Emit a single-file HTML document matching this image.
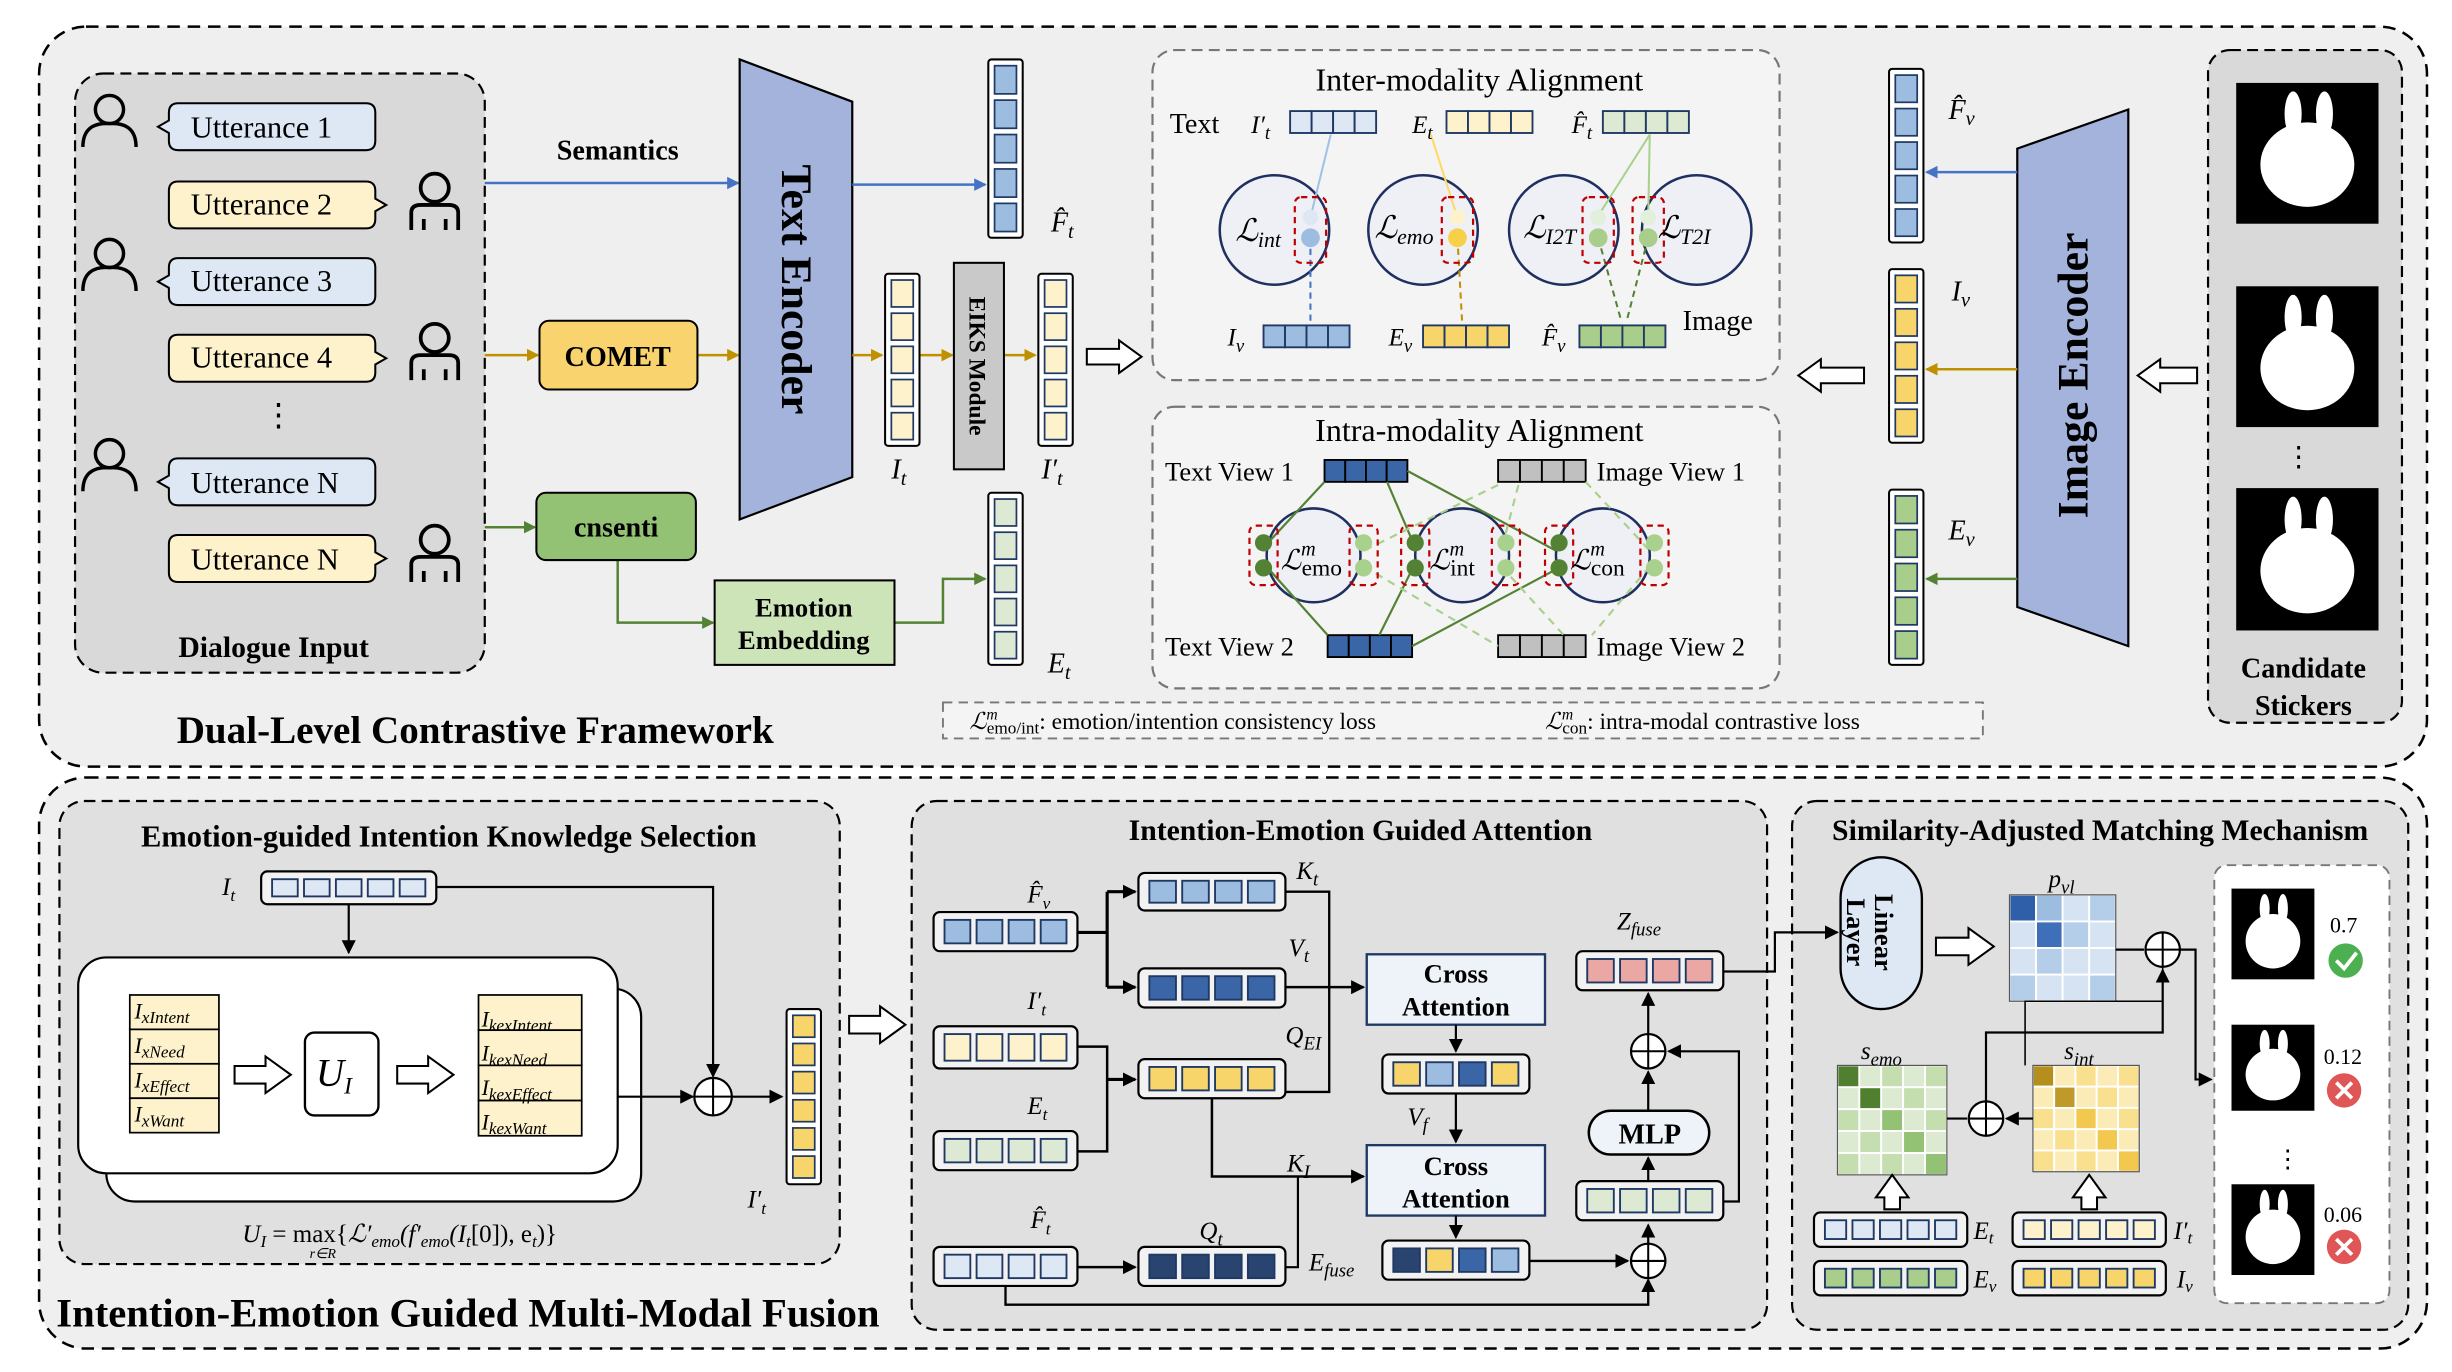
<!DOCTYPE html>
<html><head><meta charset="utf-8"><style>
html,body{margin:0;padding:0;background:#fff}
svg{display:block}
text{font-family:"Liberation Serif",serif;fill:#000}
.b{font-weight:bold}
.i{font-style:italic}
</style></head><body>
<svg id="s" width="2452" height="1372" viewBox="0 0 1568 877" preserveAspectRatio="none" xmlns="http://www.w3.org/2000/svg">
<defs>
<marker id="ab" markerWidth="8" markerHeight="8" refX="7" refY="4" orient="auto" markerUnits="userSpaceOnUse"><path d="M0,0 L8,4 L0,8 z" fill="#4472c4"/></marker>
<marker id="ay" markerWidth="8" markerHeight="8" refX="7" refY="4" orient="auto" markerUnits="userSpaceOnUse"><path d="M0,0 L8,4 L0,8 z" fill="#bf9000"/></marker>
<marker id="ag" markerWidth="8" markerHeight="8" refX="7" refY="4" orient="auto" markerUnits="userSpaceOnUse"><path d="M0,0 L8,4 L0,8 z" fill="#548235"/></marker>
<marker id="ak" markerWidth="9" markerHeight="9" refX="8" refY="4.5" orient="auto" markerUnits="userSpaceOnUse"><path d="M0,0 L9,4.5 L0,9 z" fill="#000"/></marker>
</defs>
<rect x="25" y="17" width="1527" height="473" rx="30" fill="#efefef" stroke="#000" stroke-width="1.6" stroke-dasharray="8,5"/>
<rect x="25" y="497" width="1527" height="365" rx="30" fill="#efefef" stroke="#000" stroke-width="1.6" stroke-dasharray="8,5"/>
<rect x="48" y="47" width="262" height="383" rx="18" fill="#d9d9d9" stroke="#000" stroke-width="1.4" stroke-dasharray="7,4"/>
<rect x="1412" y="32" width="124" height="430" rx="14" fill="#d9d9d9" stroke="#000" stroke-width="1.4" stroke-dasharray="7,4"/>
<rect x="737" y="32" width="401" height="211" rx="14" fill="#f4f4f4" stroke="#777" stroke-width="1.4" stroke-dasharray="7,4"/>
<rect x="737" y="260" width="401" height="180" rx="14" fill="#f4f4f4" stroke="#777" stroke-width="1.4" stroke-dasharray="7,4"/>
<rect x="603" y="449" width="665" height="23" fill="#f4f4f4" stroke="#777" stroke-width="1.2" stroke-dasharray="6,4"/>
<rect x="38" y="512" width="499" height="296" rx="16" fill="#e0e0e0" stroke="#000" stroke-width="1.4" stroke-dasharray="7,4"/>
<rect x="583" y="512" width="547" height="338" rx="16" fill="#e0e0e0" stroke="#000" stroke-width="1.4" stroke-dasharray="7,4"/>
<rect x="1146" y="512" width="394" height="338" rx="16" fill="#e0e0e0" stroke="#000" stroke-width="1.4" stroke-dasharray="7,4"/>
<rect x="1416" y="553" width="112" height="280" rx="8" fill="#fff" stroke="#777" stroke-width="1.2" stroke-dasharray="6,4"/>

<g id="shapes"></g>

<g font-size="19.5">
<text x="122" y="88">Utterance 1</text>
<text x="122" y="137">Utterance 2</text>
<text x="122" y="186">Utterance 3</text>
<text x="122" y="235">Utterance 4</text>
<text x="122" y="315">Utterance N</text>
<text x="122" y="364">Utterance N</text>
</g>
<text x="168" y="272" font-size="20">⋮</text>
<text x="175" y="420" font-size="19" class="b" text-anchor="middle">Dialogue Input</text>
<text x="395" y="102" font-size="18" class="b" text-anchor="middle">Semantics</text>
<text x="395" y="234" font-size="18" class="b" text-anchor="middle">COMET</text>
<text x="394" y="343" font-size="18" class="b" text-anchor="middle">cnsenti</text>
<text x="514" y="394" font-size="17" class="b" text-anchor="middle">Emotion</text>
<text x="514" y="415" font-size="17" class="b" text-anchor="middle">Embedding</text>
<text transform="translate(500,185) rotate(90)" font-size="28" class="b" text-anchor="middle">Text Encoder</text>
<text transform="translate(620,234) rotate(90)" font-size="15" class="b" text-anchor="middle">EIKS Module</text>
<text transform="translate(1335,240) rotate(-90)" font-size="28" class="b" text-anchor="middle">Image Encoder</text>
<text x="1473" y="433" font-size="18" class="b" text-anchor="middle">Candidate</text>
<text x="1473" y="457" font-size="18" class="b" text-anchor="middle">Stickers</text>
<text x="1470" y="298" font-size="18" text-anchor="middle">⋮</text>
<text x="113" y="475" font-size="25" class="b">Dual-Level Contrastive Framework</text>
<text x="36" y="848" font-size="26" class="b">Intention-Emotion Guided Multi-Modal Fusion</text>

<g font-size="18" class="i">
<text x="672" y="148">F̂<tspan font-size="13" dy="4">t</tspan></text>
<text x="570" y="306">I<tspan font-size="13" dy="4">t</tspan></text>
<text x="666" y="306">I′<tspan font-size="13" dy="4">t</tspan></text>
<text x="670" y="430">E<tspan font-size="13" dy="4">t</tspan></text>
<text x="1246" y="76">F̂<tspan font-size="13" dy="4">v</tspan></text>
<text x="1248" y="192">I<tspan font-size="13" dy="4">v</tspan></text>
<text x="1246" y="345">E<tspan font-size="13" dy="4">v</tspan></text>
</g>

<text x="946" y="58" font-size="20.5" text-anchor="middle">Inter-modality Alignment</text>
<text x="748" y="85" font-size="18">Text</text>
<text x="1076" y="211" font-size="18">Image</text>
<g font-size="16" class="i">
<text x="800" y="85">I′<tspan font-size="12" dy="4">t</tspan></text>
<text x="903" y="85">E<tspan font-size="12" dy="4">t</tspan></text>
<text x="1005" y="85">F̂<tspan font-size="12" dy="4">t</tspan></text>
<text x="785" y="221">I<tspan font-size="12" dy="4">v</tspan></text>
<text x="888" y="221">E<tspan font-size="12" dy="4">v</tspan></text>
<text x="986" y="221">F̂<tspan font-size="12" dy="4">v</tspan></text>
</g>
<g font-size="20" class="i">
<text x="790" y="154" fill="#1f3060">ℒ<tspan font-size="14" dy="4">int</tspan></text>
<text x="879" y="152" fill="#1f3060">ℒ<tspan font-size="14" dy="4">emo</tspan></text>
<text x="974" y="152" fill="#1f3060">ℒ<tspan font-size="14" dy="4">I2T</tspan></text>
<text x="1060" y="152" fill="#1f3060">ℒ<tspan font-size="14" dy="4">T2I</tspan></text>
</g>
<text x="946" y="282" font-size="20.5" text-anchor="middle">Intra-modality Alignment</text>
<g font-size="17">
<text x="745" y="307">Text View 1</text>
<text x="1021" y="307">Image View 1</text>
<text x="745" y="419">Text View 2</text>
<text x="1021" y="419">Image View 2</text>
</g>
<g font-size="18" class="i">
<text x="819" y="364" fill="#1f3060">ℒ<tspan font-size="13" dy="-9">m</tspan><tspan font-size="15" dx="-9" dy="13" font-style="normal">emo</tspan></text>
<text x="914" y="364" fill="#1f3060">ℒ<tspan font-size="13" dy="-9">m</tspan><tspan font-size="15" dx="-9" dy="13" font-style="normal">int</tspan></text>
<text x="1004" y="364" fill="#1f3060">ℒ<tspan font-size="13" dy="-9">m</tspan><tspan font-size="15" dx="-9" dy="13" font-style="normal">con</tspan></text>
</g>
<g font-size="15">
<text x="620" y="466" fill="#1f3060" class="i">ℒ<tspan font-size="10" dy="-6">m</tspan><tspan font-size="11" dx="-7" dy="9" font-style="normal">emo/int</tspan><tspan dy="-3" font-style="normal">: emotion/intention consistency loss</tspan></text>
<text x="988" y="466" fill="#1f3060" class="i">ℒ<tspan font-size="10" dy="-6">m</tspan><tspan font-size="11" dx="-7" dy="9" font-style="normal">con</tspan><tspan dy="-3" font-style="normal">: intra-modal contrastive loss</tspan></text>
</g>

<text x="287" y="541" font-size="19.5" class="b" text-anchor="middle">Emotion-guided Intention Knowledge Selection</text>
<text x="142" y="572" font-size="16" class="i">I<tspan font-size="11" dy="4">t</tspan></text>
<g font-size="14" class="i">
<text x="86" y="651">I<tspan font-size="11" dy="3">xIntent</tspan></text>
<text x="86" y="673">I<tspan font-size="11" dy="3">xNeed</tspan></text>
<text x="86" y="695">I<tspan font-size="11" dy="3">xEffect</tspan></text>
<text x="86" y="717">I<tspan font-size="11" dy="3">xWant</tspan></text>
<text x="308" y="656">I<tspan font-size="11" dy="3">kexIntent</tspan></text>
<text x="308" y="678">I<tspan font-size="11" dy="3">kexNeed</tspan></text>
<text x="308" y="700">I<tspan font-size="11" dy="3">kexEffect</tspan></text>
<text x="308" y="722">I<tspan font-size="11" dy="3">kexWant</tspan></text>
</g>
<text x="202" y="694" font-size="25" class="i">U<tspan font-size="15" dy="5">I</tspan></text>
<text x="478" y="772" font-size="16" class="i">I′<tspan font-size="11" dy="4">t</tspan></text>
<text x="155" y="794" font-size="16" class="i">U<tspan font-size="11" dy="3">I</tspan><tspan dy="-3" font-style="normal"> = max{</tspan>ℒ′<tspan font-size="11" dy="3">emo</tspan><tspan dy="-3">(f′</tspan><tspan font-size="11" dy="3">emo</tspan><tspan dy="-3">(I</tspan><tspan font-size="11" dy="3">t</tspan><tspan dy="-3" font-style="normal">[0]), e</tspan><tspan font-size="11" dy="3">t</tspan><tspan dy="-3" font-style="normal">)}</tspan></text>
<text x="198" y="804" font-size="9" class="i">r∈R</text>

<text x="870" y="537" font-size="19" class="b" text-anchor="middle">Intention-Emotion Guided Attention</text>
<g font-size="16" class="i">
<text x="657" y="577">F̂<tspan font-size="11" dy="4">v</tspan></text>
<text x="657" y="645">I′<tspan font-size="11" dy="4">t</tspan></text>
<text x="657" y="712">E<tspan font-size="11" dy="4">t</tspan></text>
<text x="659" y="785">F̂<tspan font-size="11" dy="4">t</tspan></text>
<text x="829" y="562">K<tspan font-size="12" dy="4">t</tspan></text>
<text x="824" y="611">V<tspan font-size="12" dy="4">t</tspan></text>
<text x="822" y="667">Q<tspan font-size="12" dy="4">EI</tspan></text>
<text x="823" y="749">K<tspan font-size="12" dy="4">I</tspan></text>
<text x="767" y="792">Q<tspan font-size="12" dy="4">t</tspan></text>
<text x="837" y="812">E<tspan font-size="12" dy="4">fuse</tspan></text>
<text x="900" y="719">V<tspan font-size="12" dy="4">f</tspan></text>
<text x="1034" y="594">Z<tspan font-size="12" dy="4">fuse</tspan></text>
</g>
<g font-size="17" class="b" text-anchor="middle">
<text x="931" y="628">Cross</text><text x="931" y="649">Attention</text>
<text x="931" y="751">Cross</text><text x="931" y="772">Attention</text>
<text x="1055" y="731" font-size="18">MLP</text>
</g>

<text x="1343" y="537" font-size="19" class="b" text-anchor="middle">Similarity-Adjusted Matching Mechanism</text>
<text transform="translate(1199,596) rotate(90)" font-size="17" class="b" text-anchor="middle">Linear</text>
<text transform="translate(1181,596) rotate(90)" font-size="17" class="b" text-anchor="middle">Layer</text>
<g font-size="16" class="i">
<text x="1310" y="567">p<tspan font-size="12" dy="4">vl</tspan></text>
<text x="1190" y="677">s<tspan font-size="12" dy="4">emo</tspan></text>
<text x="1320" y="677">s<tspan font-size="12" dy="4">int</tspan></text>
<text x="1262" y="792">E<tspan font-size="11" dy="3">t</tspan></text>
<text x="1390" y="792">I′<tspan font-size="11" dy="3">t</tspan></text>
<text x="1262" y="823">E<tspan font-size="11" dy="3">v</tspan></text>
<text x="1392" y="823">I<tspan font-size="11" dy="3">v</tspan></text>
</g>
<g font-size="14">
<text x="1490" y="596">0.7</text>
<text x="1486" y="680">0.12</text>
<text x="1486" y="781">0.06</text>
</g>
<text x="1455" y="746" font-size="16">⋮</text>
</svg>
<script>
(function(){
var NS="http://www.w3.org/2000/svg",G=document.getElementById("shapes");
function el(t,a,p){var e=document.createElementNS(NS,t);for(var k in a)e.setAttribute(k,a[k]);(p||G).appendChild(e);return e;}
function line(pts,col,w,mk,dash){el("polyline",{points:pts,fill:"none",stroke:col,"stroke-width":w||1.5,"marker-end":mk?"url(#"+mk+")":"",
 "stroke-dasharray":dash||""});}
function vcol(x,y,w,h,n,fill,st){el("rect",{x:x,y:y,width:w,height:h,fill:"#fff",stroke:"#000","stroke-width":1.3,rx:2});
 var ch=(h-4)/n;for(var i=0;i<n;i++)el("rect",{x:x+4,y:y+2+i*ch+2,width:w-8,height:ch-4,fill:fill,stroke:st||"#1f3864","stroke-width":1.1});}
function hcells(x,y,w,h,fills,st){var n=fills.length,cw=w/n;for(var i=0;i<n;i++)el("rect",{x:x+i*cw,y:y,width:cw,height:h,fill:fills[i],stroke:st||"#1f3864","stroke-width":1.2});}
function hrow(x,y,w,h,fills){el("rect",{x:x,y:y,width:w,height:h,rx:4,fill:"#f2f2f2",stroke:"#000","stroke-width":1.4});
 var n=fills.length,cw=(w-10)/n;for(var i=0;i<n;i++)el("rect",{x:x+5+i*cw+2,y:y+5,width:cw-4,height:h-10,fill:fills[i],stroke:"#1f3864","stroke-width":1.2});}
function rep(c,n){var a=[];for(var i=0;i<n;i++)a.push(c);return a;}
function hollow(x,y,len,dir,sz){sz=sz||12;var s=sz/2,hl=sz*0.9;
 var pts=[[0,-s/1.6],[len-hl,-s/1.6],[len-hl,-s*1.3],[len,0],[len-hl,s*1.3],[len-hl,s/1.6],[0,s/1.6]];
 var out=pts.map(function(q){var a=q[0],b=q[1];if(dir=="r")return [x+a,y+b];if(dir=="l")return [x-a,y+b];if(dir=="u")return [x+b,y-a];return [x+b,y+a];});
 el("polygon",{points:out.map(function(q){return q.join(",")}).join(" "),fill:"#fff",stroke:"#000","stroke-width":1.3});}
function oplus(x,y,r){r=r||11;el("circle",{cx:x,cy:y,r:r,fill:"#fff",stroke:"#000","stroke-width":1.4});line((x-r)+","+y+" "+(x+r)+","+y,"#000",1.3);line(x+","+(y-r)+" "+x+","+(y+r),"#000",1.3);}
function person(x,y){el("circle",{cx:x,cy:y-10,r:9,fill:"none",stroke:"#000","stroke-width":2.2});
 el("path",{d:"M"+(x-17)+","+(y+14)+" Q"+(x-17)+","+(y-2)+" "+x+","+(y-1)+" Q"+(x+17)+","+(y-2)+" "+(x+17)+","+(y+14),fill:"none",stroke:"#000","stroke-width":2.2});}
function person2(x,y){el("circle",{cx:x,cy:y-10,r:9,fill:"none",stroke:"#000","stroke-width":2.4});
 el("path",{d:"M"+(x-15)+","+(y+17)+" L"+(x-15)+","+(y+6)+" Q"+(x-15)+","+(y+1)+" "+(x-9)+","+(y+1)+" L"+(x+9)+","+(y+1)+" Q"+(x+15)+","+(y+1)+" "+(x+15)+","+(y+6)+" L"+(x+15)+","+(y+17)+" M"+(x-7)+","+(y+10)+" L"+(x-7)+","+(y+17)+" M"+(x+7)+","+(y+10)+" L"+(x+7)+","+(y+17),fill:"none",stroke:"#000","stroke-width":2.4});}
function bubble(x,y,fill,left){var w=132,h=30;
 var d=left?"M"+(x+6)+","+y+" H"+(x+w-6)+" Q"+(x+w)+","+y+" "+(x+w)+","+(y+6)+" V"+(y+h-6)+" Q"+(x+w)+","+(y+h)+" "+(x+w-6)+","+(y+h)+" H"+(x+6)+" Q"+x+","+(y+h)+" "+x+","+(y+h-6)+" V"+(y+h/2+4)+" L"+(x-7)+","+(y+h/2)+" L"+x+","+(y+h/2-4)+" V"+(y+6)+" Q"+x+","+y+" "+(x+6)+","+y+"Z"
 :"M"+(x+6)+","+y+" H"+(x+w-6)+" Q"+(x+w)+","+y+" "+(x+w)+","+(y+6)+" V"+(y+h/2-4)+" L"+(x+w+7)+","+(y+h/2)+" L"+(x+w)+","+(y+h/2+4)+" V"+(y+h-6)+" Q"+(x+w)+","+(y+h)+" "+(x+w-6)+","+(y+h)+" H"+(x+6)+" Q"+x+","+(y+h)+" "+x+","+(y+h-6)+" V"+(y+6)+" Q"+x+","+y+" "+(x+6)+","+y+"Z";
 el("path",{d:d,fill:fill,stroke:"#000","stroke-width":1.3});}
var LB="#dde8f4",BL="#9dbde0",DB="#3a66a8",DDB="#2a4470",LY="#fdf2cc",YL="#f7d56b",LG="#dde9d2",GR="#a9cd8a",DG="#5a8a3a",GY="#c0c0c0",PK="#eaa7a3";
[[108,66,LB,1],[108,116,LY,0],[108,165,LB,1],[108,214,LY,0],[108,293,LB,1],[108,342,LY,0]].forEach(function(b){bubble(b[0],b[1],b[2],b[3]);});
person(70,80);person(70,172);person(70,300);person2(278,130);person2(278,226);person2(278,355);
line("310,117 472,117","#4472c4",1.6,"ab");
line("310,227 344,227","#bf9000",1.6,"ay");line("446,227 472,227","#bf9000",1.6,"ay");
line("310,337 342,337","#548235",1.6,"ag");
line("395,358 395,398 456,398","#548235",1.6,"ag");
line("572,398 603,398 603,370 630,370","#548235",1.6,"ag");
el("rect",{x:345,y:205,width:101,height:44,rx:6,fill:"#f9d46e",stroke:"#000","stroke-width":1.3});
el("rect",{x:343,y:315,width:102,height:43,rx:6,fill:"#93c274",stroke:"#000","stroke-width":1.3});
el("rect",{x:457,y:371,width:115,height:54,fill:"#cde3b8",stroke:"#000","stroke-width":1.3});
el("polygon",{points:"473,38 545,65 545,305 473,332",fill:"#a3b3dc",stroke:"#000","stroke-width":1.4});
line("545,118 630,118","#4472c4",1.6,"ab");
line("545,227 564,227","#bf9000",1.6,"ay");line("588,227 609,227","#bf9000",1.6,"ay");line("642,227 662,227","#bf9000",1.6,"ay");
vcol(632,38,22,114,5,BL);vcol(566,175,22,110,5,LY);vcol(664,175,22,110,5,LY);vcol(632,315,22,110,5,LG);
el("rect",{x:610,y:168,width:32,height:132,fill:"#c9c9c9",stroke:"#000","stroke-width":1.3});
hollow(695,228,35,"r",16);
hollow(1192,240,42,"l",16);hollow(1405,240,38,"l",16);
el("polygon",{points:"1290,95 1361,70 1361,413 1290,388",fill:"#a3b3dc",stroke:"#000","stroke-width":1.4});
vcol(1208,44,22,111,5,BL);vcol(1208,172,22,111,5,YL);vcol(1208,313,22,112,5,GR);
line("1290,110 1232,110","#4472c4",1.6,"ab");line("1290,236 1232,236","#bf9000",1.6,"ay");line("1290,370 1232,370","#548235",1.6,"ag");
[[1430,53,91,90],[1430,183,91,90],[1430,312,91,91],[1427,568,53,58],[1427,655,53,55],[1427,757,53,58]].forEach(function(s){
 el("rect",{x:s[0],y:s[1],width:s[2],height:s[3],fill:"#000"});
 el("ellipse",{cx:s[0]+s[2]/2,cy:s[1]+s[3]*0.58,rx:s[2]*0.33,ry:s[3]*0.3,fill:"#fff"});
 el("ellipse",{cx:s[0]+s[2]*0.4,cy:s[1]+s[3]*0.22,rx:s[2]*0.06,ry:s[3]*0.16,fill:"#fff"});
 el("ellipse",{cx:s[0]+s[2]*0.62,cy:s[1]+s[3]*0.22,rx:s[2]*0.06,ry:s[3]*0.16,fill:"#fff"});});
hcells(825,71,55,14,rep(LB,4));hcells(925,71,55,14,rep(LY,4));hcells(1025,71,55,14,rep(LG,4));
hcells(808,208,55,14,rep(BL,4));hcells(910,208,55,14,rep(YL,4));hcells(1010,208,55,14,rep(GR,4));
[[815,147],[910,147],[1000,147],[1085,147]].forEach(function(c){el("circle",{cx:c[0],cy:c[1],r:35,fill:"#eef0f5",stroke:"#1f3060","stroke-width":1.6});});
line("851,86 838,139","#9dc3e6",1.3);line("838,152 838,206","#4472c4",1.3,"","4,3");
line("915,86 932,139","#ffd966",1.3);line("932,152 935,206","#bf9000",1.3,"","4,3");
line("1055,86 1022,138","#a9d18e",1.3);line("1055,86 1054,138","#a9d18e",1.3);
line("1022,152 1037,206","#548235",1.3,"","4,3");line("1054,152 1040,206","#548235",1.3,"","4,3");
[[838,"#dde8f4",BL],[932,"#fdf2cc","#f7d04a"],[1022,"#e2efda",GR],[1054,"#e2efda",GR]].forEach(function(d){
 el("rect",{x:d[0]-10,y:126,width:20,height:42,rx:4,fill:"none",stroke:"#c00000","stroke-width":1.4,"stroke-dasharray":"4,3"});
 el("circle",{cx:d[0],cy:139,r:5,fill:d[1]});el("circle",{cx:d[0],cy:152,r:6,fill:d[2]});});
hcells(847,294,53,14,rep(DB,4),"#000");hcells(958,294,56,14,rep(GY,4),"#000");
hcells(849,406,54,14,rep(DB,4),"#000");hcells(958,406,56,14,rep(GY,4),"#000");
[[840,355],[935,355],[1025,355]].forEach(function(c){el("circle",{cx:c[0],cy:c[1],r:30,fill:"#eef0f5",stroke:"#1f3060","stroke-width":1.6});});
var dg="#548235",lg="#a9d18e";
line("847,308 808,350",dg,1.4);line("808,360 849,406",dg,1.4);line("887,308 905,350",dg,1.4);line("905,360 882,406",dg,1.4);
line("900,301 995,352",dg,1.4);line("995,364 903,413",dg,1.4);
line("958,310 872,352",lg,1.4,"","5,4");line("872,362 958,413",lg,1.4,"","5,4");line("971,310 960,352",lg,1.4,"","5,4");line("960,362 1000,406",lg,1.4,"","5,4");
line("1014,308 1055,352",lg,1.4,"","5,4");line("1055,362 1018,406",lg,1.4,"","5,4");
[[808,dg],[872,lg],[905,dg],[963,lg],[997,dg],[1058,lg]].forEach(function(d){
 el("rect",{x:d[0]-9,y:336,width:18,height:38,rx:4,fill:"none",stroke:"#c00000","stroke-width":1.4,"stroke-dasharray":"4,3"});
 el("circle",{cx:d[0],cy:347,r:5.5,fill:d[1]});el("circle",{cx:d[0],cy:363,r:5.5,fill:d[1]});});
hrow(167,557,112,21,rep(LB,5));
line("223,578 223,609","#000",1.4,"ak");
line("279,567 456,567 456,688","#000",1.4,"ak");
el("rect",{x:68,y:632,width:342,height:136,rx:18,fill:"#fff",stroke:"#000","stroke-width":1.4});
el("rect",{x:50,y:612,width:345,height:138,rx:18,fill:"#fff",stroke:"#000","stroke-width":1.4});
[0,1,2,3].forEach(function(i){el("rect",{x:83,y:636+i*22,width:57,height:22,fill:LY,stroke:"#000","stroke-width":1.1});
 el("rect",{x:306,y:636+i*22.5,width:66,height:22.5,fill:LY,stroke:"#000","stroke-width":1.1});});
el("rect",{x:195,y:660,width:47,height:53,rx:6,fill:"#fff",stroke:"#000","stroke-width":1.5});
hollow(150,687,36,"r",18);hollow(254,687,36,"r",18);
line("395,701 443,701","#000",1.4,"ak");oplus(456,701,12);line("468,701 500,701","#000",1.4,"ak");
vcol(503,645,22,112,6,YL);
hollow(543,655,36,"r",18);
hrow(597,583,92,25,rep(BL,4));hrow(597,656,92,27,rep(LY,4));hrow(597,723,92,25,rep(LG,4));hrow(597,797,92,25,rep(LB,4));
hrow(728,558,94,24,rep(BL,4));hrow(728,619,94,25,rep(DB,4));hrow(728,677,94,25,rep(YL,4));hrow(728,797,94,25,rep(DDB,4));
line("689,596 708,596","#000",2);line("708,570 708,631","#000",2);line("708,570 726,570","#000",2,"ak");line("708,631 726,631","#000",2,"ak");
line("689,669 708,669 708,736 689,736","#000",1.6);line("708,690 726,690","#000",2,"ak");
line("689,810 726,810","#000",1.6,"ak");
line("822,570 850,570 850,698 822,698","#000",1.5);
line("822,631 872,631","#000",1.6,"ak");
line("775,702 775,752 872,752","#000",1.6,"ak");
line("822,810 830,810 830,752","#000",1.4);
el("rect",{x:874,y:610,width:114,height:45,fill:"#eef3fa",stroke:"#1f3864","stroke-width":1.5});
el("rect",{x:874,y:732,width:114,height:45,fill:"#eef3fa",stroke:"#1f3864","stroke-width":1.5});
line("931,655 931,672","#000",1.4,"ak");hrow(884,674,94,25,[YL,BL,DB,YL]);line("931,699 931,730","#000",1.4,"ak");
line("931,777 931,791","#000",1.4,"ak");hrow(884,793,94,25,[DDB,YL,DB,BL]);
line("978,806 1041,806","#000",1.5,"ak");oplus(1054,806,11);
line("643,822 643,834 1054,834 1054,818","#000",1.5,"ak");
line("1054,795 1054,783","#000",1.4,"ak");hrow(1008,755,94,25,rep(LG,4));
line("1054,755 1054,740","#000",1.4,"ak");
el("rect",{x:1016,y:710,width:77,height:28,rx:14,fill:"#eef3fa",stroke:"#000","stroke-width":1.6});
line("1054,710 1054,685","#000",1.4,"ak");oplus(1054,672,11);
line("1102,768 1112,768 1112,672 1067,672","#000",1.4,"ak");
line("1054,661 1054,635","#000",1.4,"ak");hrow(1008,608,94,25,rep(PK,4));
line("1102,621 1135,621 1135,596 1175,596","#000",1.4,"ak");
el("rect",{x:1177,y:548,width:52,height:97,rx:26,fill:"#dde8f4",stroke:"#000","stroke-width":1.5});
hollow(1238,605,37,"r",18);
function grid(x,y,w,n,colors){var c=w/n;for(var i=0;i<n;i++)for(var j=0;j<n;j++)el("rect",{x:x+j*c,y:y+i*c,width:c,height:c,fill:colors(i,j),stroke:"#fff","stroke-width":1.2});
 el("rect",{x:x,y:y,width:w,height:w,fill:"none",stroke:"#555","stroke-width":0.8});}
grid(1285,572,68,4,function(i,j){if(i==0&&j==0)return "#2e5fa8";if(i==1&&j==1)return "#3f6fb8";if(i==0&&j==1)return "#9dbde0";return (i+j)%3==0?"#b4cde8":"#d6e3f2";});
grid(1175,681,70,5,function(i,j){if(i==0&&j==0)return "#4f7f2f";if(i==1&&j==1)return "#4f7f2f";if(i==j)return "#93c274";return (i+j)%2?"#dbead0":"#c5deb0";});
grid(1300,681,68,5,function(i,j){if(i==0&&j==0)return "#b48f1e";if(i==1&&j==1)return "#bf9a2a";if(i==j)return "#f2c84e";return (i+j)%2?"#fbecb7":"#f9e08e";});
oplus(1383,607,11);oplus(1270,715,11);
line("1353,607 1371,607","#000",1.4);line("1383,618 1383,640 1295,640 1295,681","#000",1.0);
line("1245,715 1258,715","#000",1.4);line("1300,715 1283,715","#000",1.4,"ak");
line("1270,704 1270,660 1383,660 1383,620","#000",1.4,"ak");
line("1394,607 1404,607 1404,690 1414,690","#000",1.4,"ak");
hrow(1160,775,98,22,rep(LB,5));hrow(1287,775,98,22,rep(LY,5));
hrow(1160,806,98,22,rep(GR,5));hrow(1287,806,98,22,rep(YL,5));
hollow(1210,773,22,"u",16);hollow(1336,773,22,"u",16);
el("circle",{cx:1500,cy:614,r:11,fill:"#4caf50"});line("1494,614 1499,619 1507,609","#fff",2.4);
[697,797].forEach(function(y){el("circle",{cx:1499,cy:y,r:11,fill:"#e05555"});line("1494,"+(y-5)+" 1504,"+(y+5),"#fff",2.4);line("1504,"+(y-5)+" 1494,"+(y+5),"#fff",2.4);});
})();
</script>
</body></html>
